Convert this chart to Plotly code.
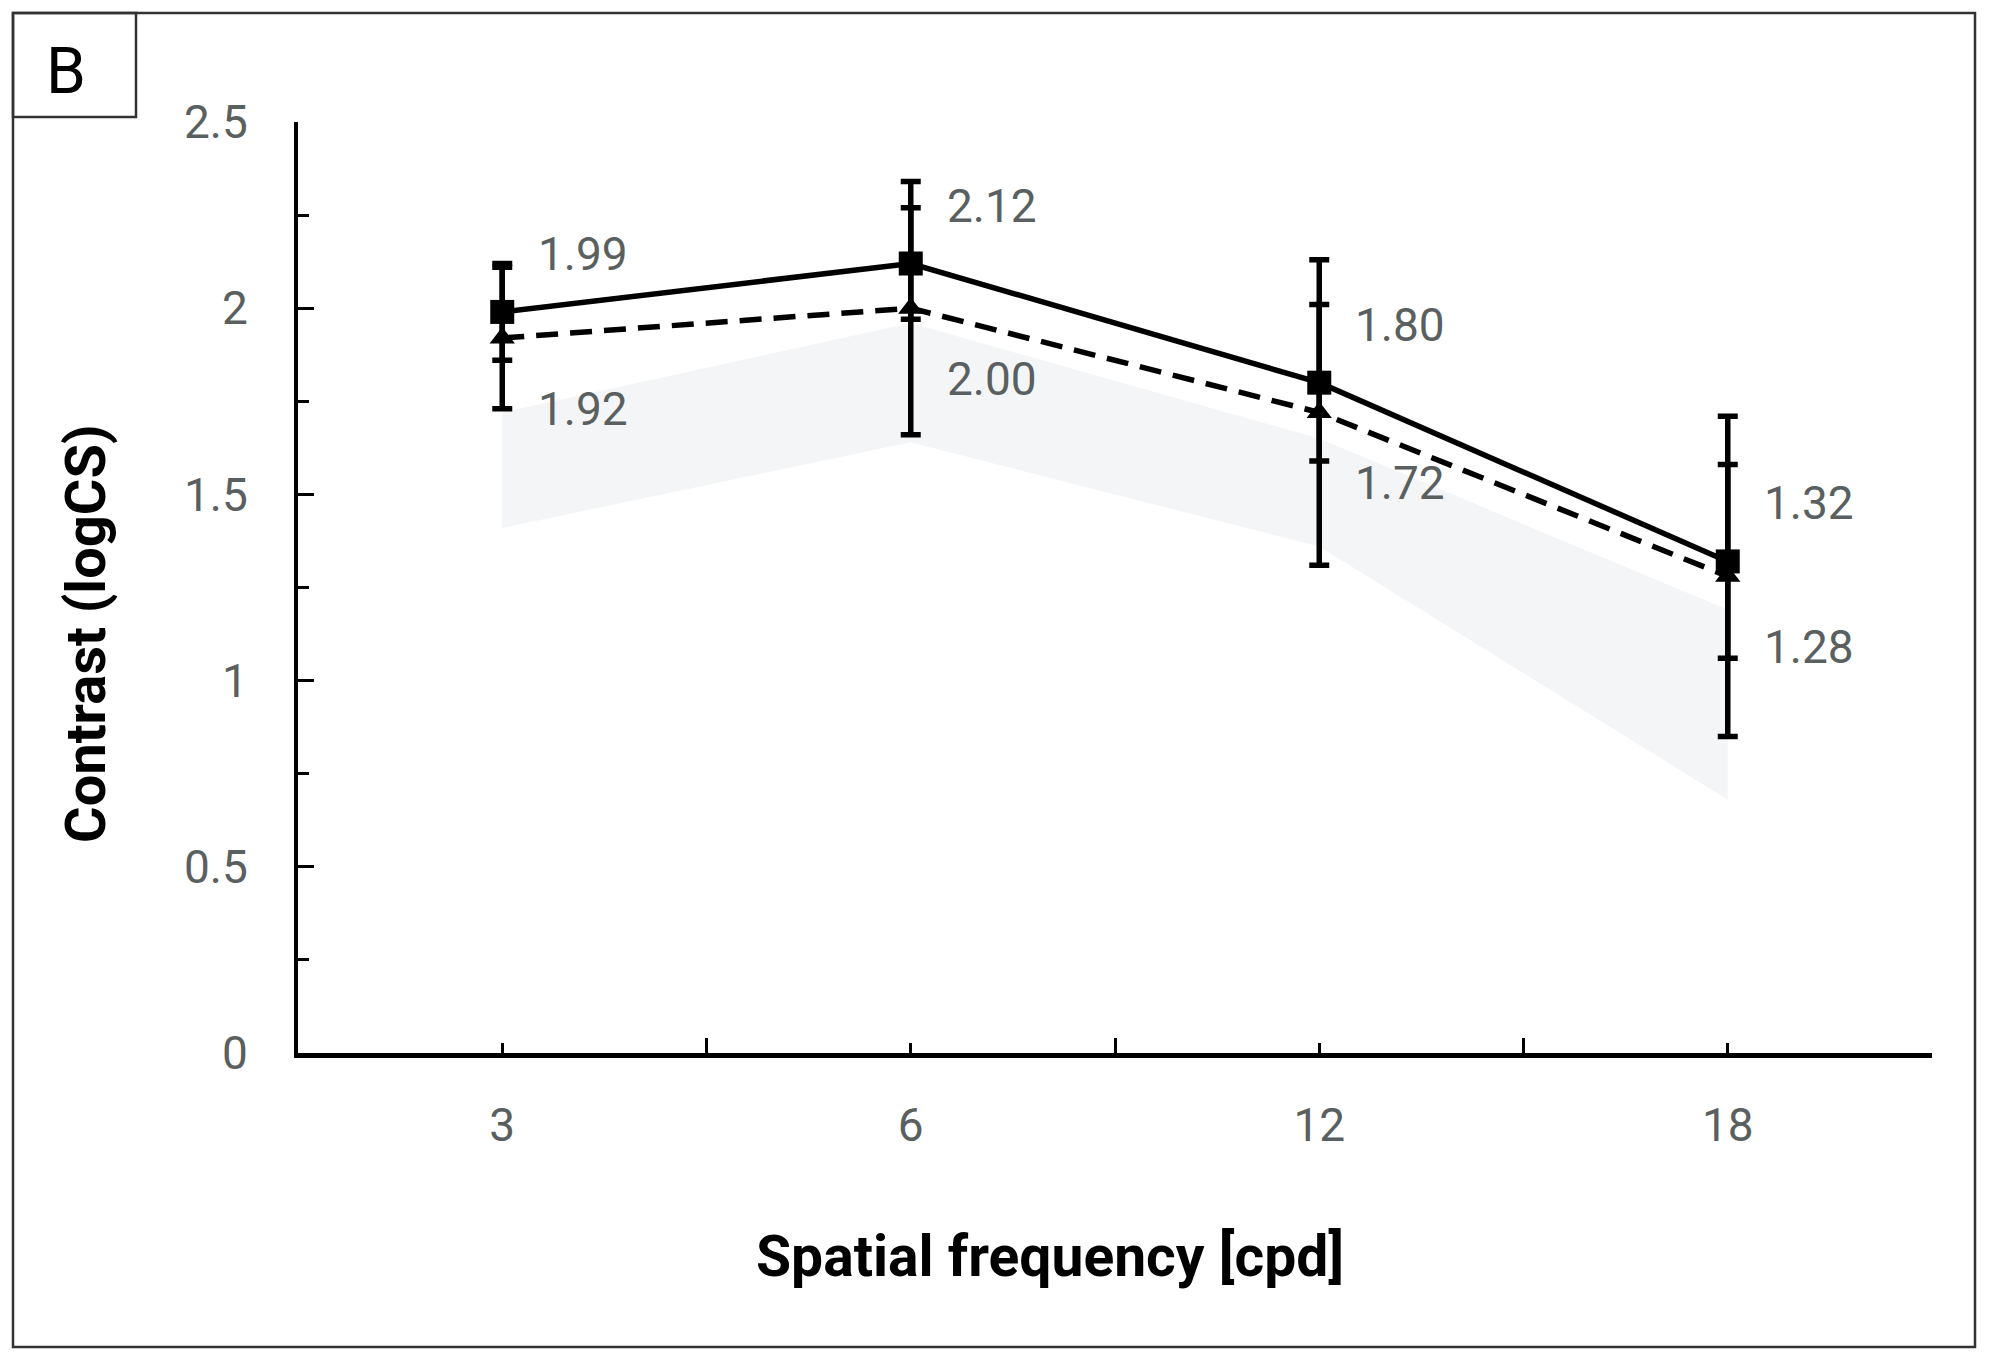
import plotly.graph_objects as go

# ---- data ----
categories = ["3", "6", "12", "18"]
series1 = [1.99, 2.12, 1.80, 1.32]          # solid, squares
series1_err = [0.13, 0.15, 0.21, 0.26]
series2 = [1.92, 2.00, 1.72, 1.28]          # dashed, triangles
series2_err = [0.19, 0.34, 0.41, 0.43]
band_upper = [1.72, 1.96, 1.65, 1.19]
band_lower = [1.41, 1.64, 1.36, 0.68]
y_ticks = [0, 0.5, 1, 1.5, 2, 2.5]
y_ticklabels = ["0", "0.5", "1", "1.5", "2", "2.5"]
y_minor = [0.25, 0.75, 1.25, 1.75, 2.25]
panel_label = "B"
x_title = "Spatial frequency [cpd]"
y_title = "Contrast (logCS)"

# ---- layout geometry (screen pixels; page body adds an 8px offset) ----
OFF = 8
W, H = 1990 - 2 * OFF, 1360 - 2 * OFF
L, R, T, B = 298 - OFF, 1932 - OFF, 122 - OFF, 1053 - OFF
pw, ph = R - L, B - T


def px(xs):
    return (xs - OFF - L) / pw


def py(ys):
    return (B - (ys - OFF)) / ph


xi = list(range(len(categories)))
GRAY = "#5a5f5f"
FONT = "Roboto"

fig = go.Figure()

# shaded band
fig.add_trace(go.Scatter(
    x=xi + xi[::-1],
    y=band_upper + band_lower[::-1],
    fill="toself", fillcolor="#F4F5F7",
    line=dict(width=0), mode="lines", hoverinfo="skip", showlegend=False,
))

# dashed series with triangles
fig.add_trace(go.Scatter(
    x=xi, y=series2, mode="lines+markers",
    line=dict(color="black", width=5.5, dash="22px,12px"),
    marker=dict(symbol="triangle-up", size=22, color="black"),
    error_y=dict(type="data", array=series2_err, color="black", thickness=5.5, width=10),
    showlegend=False,
))

# solid series with squares
fig.add_trace(go.Scatter(
    x=xi, y=series1, mode="lines+markers",
    line=dict(color="black", width=5.5),
    marker=dict(symbol="square", size=24, color="black"),
    error_y=dict(type="data", array=series1_err, color="black", thickness=5.5, width=10),
    showlegend=False,
))

annotations = []
for i, v in enumerate(series1):
    annotations.append(dict(x=i, y=v, xref="x", yref="y", text=f"{v:.2f}",
                            showarrow=False, xanchor="left", yanchor="middle",
                            xshift=34, yshift=58,
                            font=dict(family=FONT, size=46, color=GRAY)))
for i, v in enumerate(series2):
    annotations.append(dict(x=i, y=v, xref="x", yref="y", text=f"{v:.2f}",
                            showarrow=False, xanchor="left", yanchor="middle",
                            xshift=34, yshift=-71,
                            font=dict(family=FONT, size=46, color=GRAY)))

# axis titles
annotations.append(dict(x=px(1050), y=py(1256), xref="paper", yref="paper",
                        text=f"<b>{x_title}</b>", showarrow=False,
                        xanchor="center", yanchor="middle",
                        font=dict(family=FONT, size=57, color="black")))
annotations.append(dict(x=px(86), y=py(633), xref="paper", yref="paper",
                        text=f"<b>{y_title}</b>", showarrow=False, textangle=-90,
                        xanchor="center", yanchor="middle",
                        font=dict(family=FONT, size=56, color="black")))
# panel letter
annotations.append(dict(x=px(66), y=py(72), xref="paper", yref="paper",
                        text=panel_label, showarrow=False,
                        xanchor="center", yanchor="middle",
                        font=dict(family=FONT, size=64, color="black")))

shapes = [
    dict(type="rect", xref="paper", yref="paper",
         x0=px(13), x1=px(1975), y0=py(1347), y1=py(13),
         line=dict(color="#333333", width=2.5), layer="below"),
    dict(type="rect", xref="paper", yref="paper",
         x0=px(13), x1=px(136), y0=py(117), y1=py(13),
         line=dict(color="#333333", width=2.5)),
]

fig.update_layout(
    width=W, height=H,
    margin=dict(l=L, r=W - R, t=T, b=H - B, pad=0),
    paper_bgcolor="white", plot_bgcolor="white",
    annotations=annotations, shapes=shapes,
    xaxis=dict(
        range=[-0.5, len(categories) - 0.5],
        tickmode="array", tickvals=xi, ticktext=categories,
        ticks="inside", ticklen=10, tickwidth=3, tickcolor="black",
        minor=dict(tickmode="array", tickvals=[i - 0.5 for i in range(len(categories) + 1)],
                   ticks="inside", ticklen=15, tickwidth=3, tickcolor="black"),
        showline=True, linecolor="black", linewidth=4.5,
        showgrid=False, zeroline=False,
        tickfont=dict(family=FONT, size=46, color=GRAY),
        ticklabelstandoff=28,
    ),
    yaxis=dict(
        range=[0, 2.5],
        tickmode="array", tickvals=y_ticks, ticktext=y_ticklabels,
        ticks="inside", ticklen=16, tickwidth=3, tickcolor="black",
        minor=dict(tickmode="array", tickvals=y_minor,
                   ticks="inside", ticklen=11, tickwidth=3, tickcolor="black"),
        showline=True, linecolor="black", linewidth=4,
        showgrid=False, zeroline=False,
        tickfont=dict(family=FONT, size=46, color=GRAY),
        ticklabelstandoff=37,
    ),
)

fig.write_html("out.html")
